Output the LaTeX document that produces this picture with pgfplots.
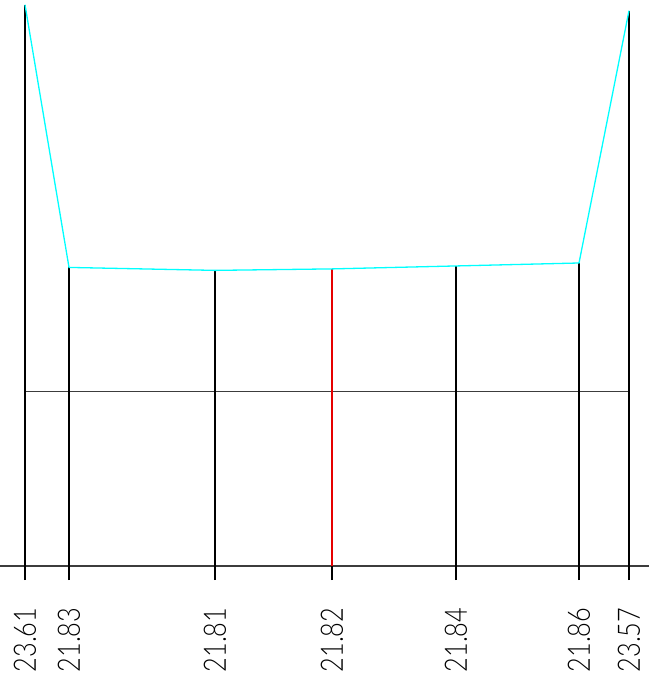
\documentclass[border=0pt]{standalone}
\usepackage{fontspec}
\setmainfont{Lato Light}[FakeStretch=0.82]
\usepackage{pgfplots}
\pgfplotsset{compat=1.18}
\definecolor{cadcyan}{RGB}{0,255,255}
\definecolor{cadred}{RGB}{230,0,0}
\definecolor{cadgray}{RGB}{60,60,60}
\begin{document}
\begin{tikzpicture}
\begin{axis}[
  scale only axis, width=649bp, height=682bp,
  xmin=0, xmax=649, ymin=19.021, ymax=23.642,
  hide axis, clip=false,
]
\coordinate (sw) at (rel axis cs:0,0);
\coordinate (ne) at (rel axis cs:1,1);
% baseline and reference line
\addplot[color=cadgray, line width=1.3bp] coordinates {(0,19.807)(649,19.807)};
\addplot[color=cadgray, line width=1.3bp] coordinates {(25,20.99)(629,20.99)};
% stems
\addplot[black, line width=1.3bp] coordinates {(25,19.712)(25,23.61)};
\addplot[black, line width=1.3bp] coordinates {(69,19.712)(69,21.83)};
\addplot[black, line width=1.3bp] coordinates {(215,19.712)(215,21.81)};
\addplot[black, line width=1.3bp] coordinates {(332,19.712)(332,19.807)};
\addplot[cadred, line width=1.3bp] coordinates {(332,19.807)(332,21.82)};
\addplot[black, line width=1.3bp] coordinates {(456,19.712)(456,21.84)};
\addplot[black, line width=1.3bp] coordinates {(579,19.712)(579,21.86)};
\addplot[black, line width=1.3bp] coordinates {(629,19.712)(629,23.57)};
% profile
\addplot[cadcyan, line width=1.3bp] coordinates {(25,23.61)(69,21.83)(215,21.81)(332,21.82)(456,21.84)(579,21.86)(629,23.57)};
% labels
\addplot[draw=none, mark=none, nodes near coords, point meta=explicit symbolic,
  every node near coord/.style={rotate=90, anchor=west, inner sep=0pt, font=\fontsize{31}{31}\selectfont, text=black}]
  coordinates {(25,19.085)[23.61] (69,19.085)[21.83] (215,19.085)[21.81] (332,19.085)[21.82] (456,19.085)[21.84] (579,19.085)[21.86] (629,19.085)[23.57]};
\end{axis}
\pgfresetboundingbox
\useasboundingbox (sw) rectangle (ne);
\end{tikzpicture}
\end{document}
